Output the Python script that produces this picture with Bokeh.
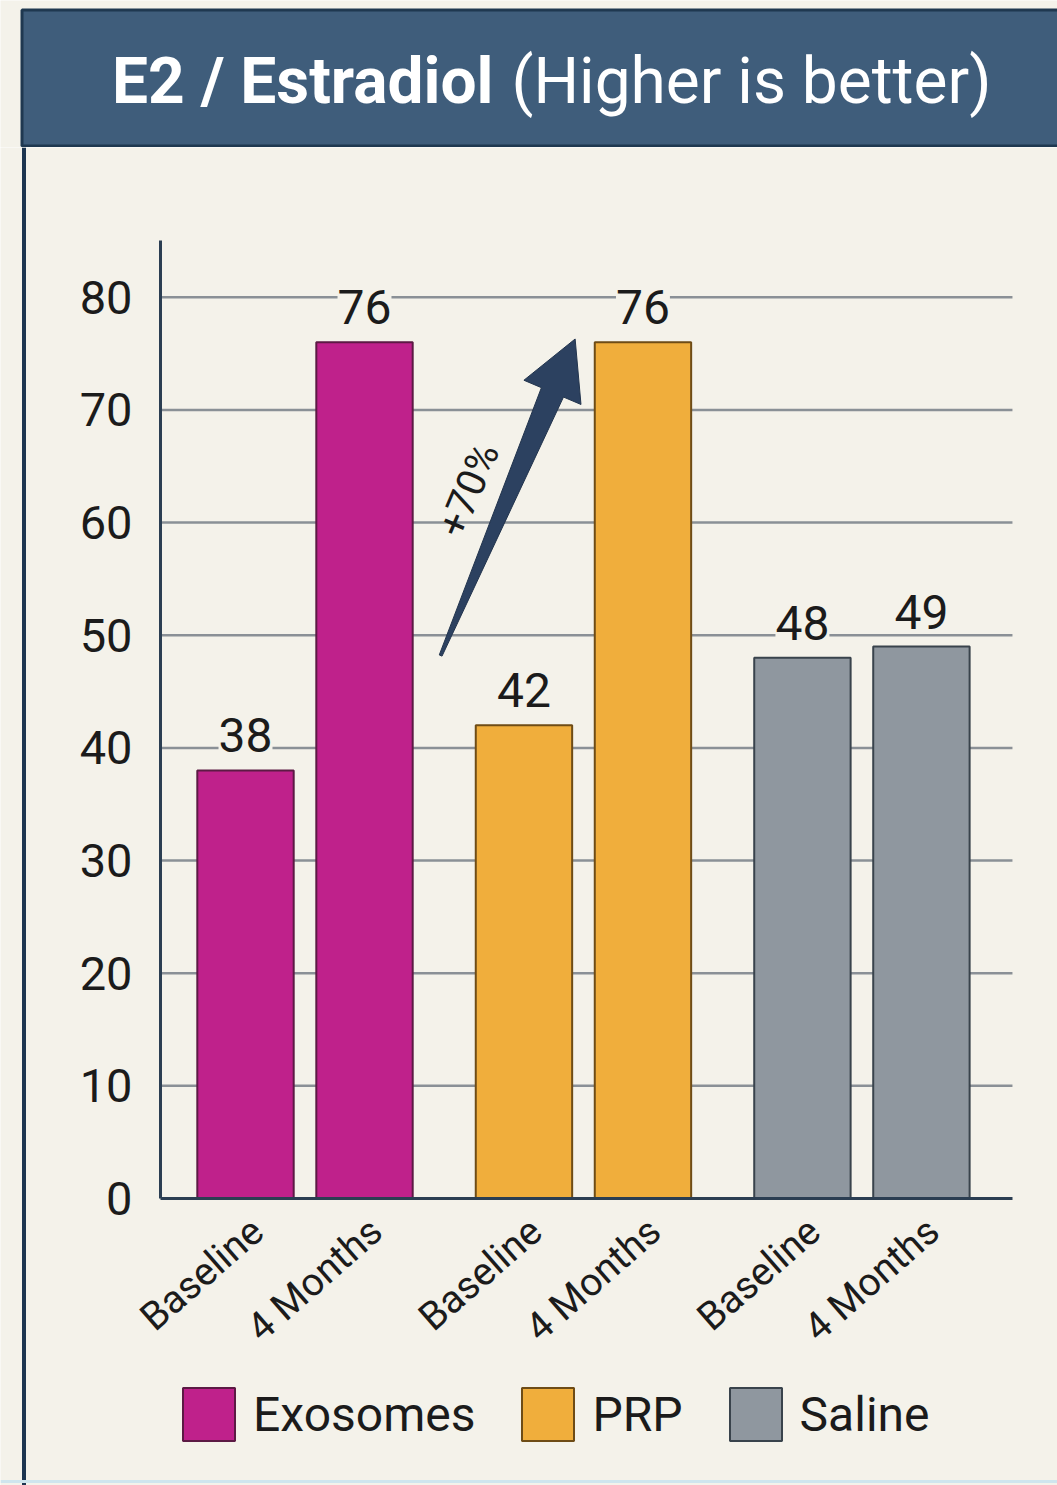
import math
from bokeh.plotting import figure
from bokeh.layouts import column
from bokeh.models import (ColumnDataSource, LinearAxis, FixedTicker, Range1d,
                          LabelSet, Legend, LegendItem, Span)
from bokeh.core.properties import value
from bokeh.embed import file_html
from bokeh.resources import INLINE

# ---------------- data ----------------
groups = ["Exosomes", "PRP", "Saline"]
timepoints = ["Baseline", "4 Months"]
baseline_values = [38, 42, 48]
month4_values = [76, 76, 49]
group_colors = ["#bf218b", "#f0ae3c", "#8f979f"]
group_edges = ["#5c1a44", "#6e4c16", "#39434c"]
y_ticks = [0, 10, 20, 30, 40, 50, 60, 70, 80]
title_bold = "E2 / Estradiol"
title_rest = "(Higher is better)"
change_label = "+70%"

# ---------------- style / layout constants ----------------
FONT = "Roboto"
BG = "#f4f2ea"
NAVY = "#2b3e52"
TEXT = "#1b1b1b"
SUB_STEP = 100       # distance between bars within a group (x units)
GROUP_STEP = 234     # distance between groups (x units)
BAR_W = 81
LABEL_SHIFT = 10     # x-label anchor shift (x units)
X_PX = 1.19          # pixels per x unit
Y_PX = 11.265        # pixels per y unit
W = 1057
H_TITLE = 147
H_MAIN = 1338
Y_AXIS_X = -71.4
X_AXIS_END = 644.5
Y_TOP = 85

# ---------------- title figure ----------------
tf = figure(width=W, height=H_TITLE, x_range=Range1d(0, W), y_range=Range1d(0, H_TITLE),
            x_axis_type=None, y_axis_type=None, toolbar_location=None,
            output_backend="svg", min_border=0)
tf.outline_line_color = None
tf.background_fill_color = BG
tf.border_fill_color = BG
tf.grid.visible = False
tf.quad(left=21.5, right=W + 20, bottom=1.5, top=H_TITLE - 9.5,
        fill_color="#3f5d7b", line_color="#1f3850", line_width=3)
tf.text(x=[493], y=[66], text=[title_bold], text_font=value(FONT), text_font_style="bold",
        text_font_size="64px", text_color="white", text_align="right",
        text_baseline="alphabetic")
tf.text(x=[511], y=[66], text=[title_rest], text_font=value(FONT), text_font_style="normal",
        text_font_size="64px", text_color="white", text_align="left",
        text_baseline="alphabetic")

# ---------------- main figure ----------------
x_start = -245 / X_PX
y_start = -(1485 - 1198) / Y_PX
p = figure(width=W, height=H_MAIN,
           x_range=Range1d(x_start, x_start + W / X_PX),
           y_range=Range1d(y_start, y_start + H_MAIN / Y_PX),
           x_axis_type=None, y_axis_type=None, toolbar_location=None,
           output_backend="svg", min_border=0)
p.outline_line_color = None
p.background_fill_color = BG
p.border_fill_color = BG
p.grid.visible = False

# panel border lines
p.add_layout(Span(location=x_start + 23.5 / X_PX, dimension="height",
                  line_color="#1d3550", line_width=4))
p.add_layout(Span(location=y_start + 4 / Y_PX, dimension="width",
                  line_color="#cfe5ee", line_width=3))

# grid lines (behind bars)
grid_vals = [t for t in y_ticks if t > 0]
p.segment(x0=[Y_AXIS_X] * len(grid_vals), y0=grid_vals,
          x1=[X_AXIS_END] * len(grid_vals), y1=grid_vals,
          line_color="#8a9096", line_width=2.5)

# bars
tick_pos, tick_lab = [], []
all_x, all_y = [], []
renderers = []
for gi, g in enumerate(groups):
    vals = [baseline_values[gi], month4_values[gi]]
    xs = [gi * GROUP_STEP + si * SUB_STEP for si in range(len(timepoints))]
    src = ColumnDataSource(dict(x=xs, top=vals))
    r = p.vbar(x="x", top="top", bottom=0, width=BAR_W, source=src,
               fill_color=group_colors[gi], line_color=group_edges[gi], line_width=2)
    renderers.append(r)
    tick_pos += [x + LABEL_SHIFT for x in xs]
    tick_lab += timepoints
    all_x += xs
    all_y += vals

# value labels
lab_src = ColumnDataSource(dict(x=all_x, y=all_y, text=[str(v) for v in all_y]))
p.add_layout(LabelSet(x="x", y="y", text="text", source=lab_src, y_offset=18,
                      text_font=value(FONT), text_font_size="48px", text_color=TEXT,
                      text_align="center", text_baseline="alphabetic",
                      background_fill_color=BG))

# axes
yaxis = LinearAxis(fixed_location=Y_AXIS_X, ticker=FixedTicker(ticks=y_ticks),
                   bounds=(0, Y_TOP))
yaxis.axis_line_color = NAVY
yaxis.axis_line_width = 3
yaxis.major_tick_out = 0
yaxis.major_tick_in = 0
yaxis.minor_tick_out = 0
yaxis.major_label_standoff = 28
yaxis.major_label_text_font = FONT
yaxis.major_label_text_font_size = "47px"
yaxis.major_label_text_color = TEXT
p.add_layout(yaxis, "left")

xaxis = LinearAxis(fixed_location=0, ticker=FixedTicker(ticks=tick_pos),
                   bounds=(Y_AXIS_X, X_AXIS_END))
xaxis.major_label_overrides = {tp: tl for tp, tl in zip(tick_pos, tick_lab)}
xaxis.axis_line_color = NAVY
xaxis.axis_line_width = 3
xaxis.major_tick_out = 0
xaxis.major_tick_in = 0
xaxis.minor_tick_out = 0
xaxis.major_label_standoff = 27
xaxis.major_label_orientation = 0.72
xaxis.major_label_text_font = FONT
xaxis.major_label_text_font_size = "39px"
xaxis.major_label_text_color = TEXT
p.add_layout(xaxis, "below")

# change arrow (annotation)
tail = (164.0, 48.2)
tip = (277.0, 76.3)
tx, ty = tail[0] * X_PX, tail[1] * Y_PX
hx, hy = tip[0] * X_PX, tip[1] * Y_PX
L = math.hypot(hx - tx, hy - ty)
dx, dy = (hx - tx) / L, (hy - ty) / L
nx, ny = -dy, dx
head_len, head_half, shaft_tail, shaft_head = 58, 31, 1.5, 12
bx, by = hx - dx * head_len, hy - dy * head_len
pts = [(tx + nx * shaft_tail, ty + ny * shaft_tail),
       (bx + nx * shaft_head, by + ny * shaft_head),
       (bx + nx * head_half, by + ny * head_half),
       (hx, hy),
       (bx - nx * head_half, by - ny * head_half),
       (bx - nx * shaft_head, by - ny * shaft_head),
       (tx - nx * shaft_tail, ty - ny * shaft_tail)]
p.patch(x=[q[0] / X_PX for q in pts], y=[q[1] / Y_PX for q in pts],
        fill_color="#2c4160", line_color="#22344d", line_width=1)
ang = math.atan2(hy - ty, hx - tx)
p.text(x=[187.4], y=[62.9], text=[change_label], angle=ang,
       text_font=value(FONT), text_font_size="40px", text_color=TEXT,
       text_align="center", text_baseline="middle")

# legend
legend = Legend(items=[LegendItem(label=g, renderers=[r]) for g, r in zip(groups, renderers)],
                orientation="horizontal", location=(176, 38))
legend.glyph_width = 65
legend.glyph_height = 66
legend.label_standoff = 12
legend.spacing = 40
legend.padding = 0
legend.margin = 0
legend.border_line_alpha = 0
legend.background_fill_alpha = 0
legend.label_text_font = FONT
legend.label_text_font_size = "48px"
legend.label_text_color = TEXT
p.add_layout(legend)

layout = column(tf, p, spacing=0)
open("out.html", "w").write(file_html(layout, INLINE))
